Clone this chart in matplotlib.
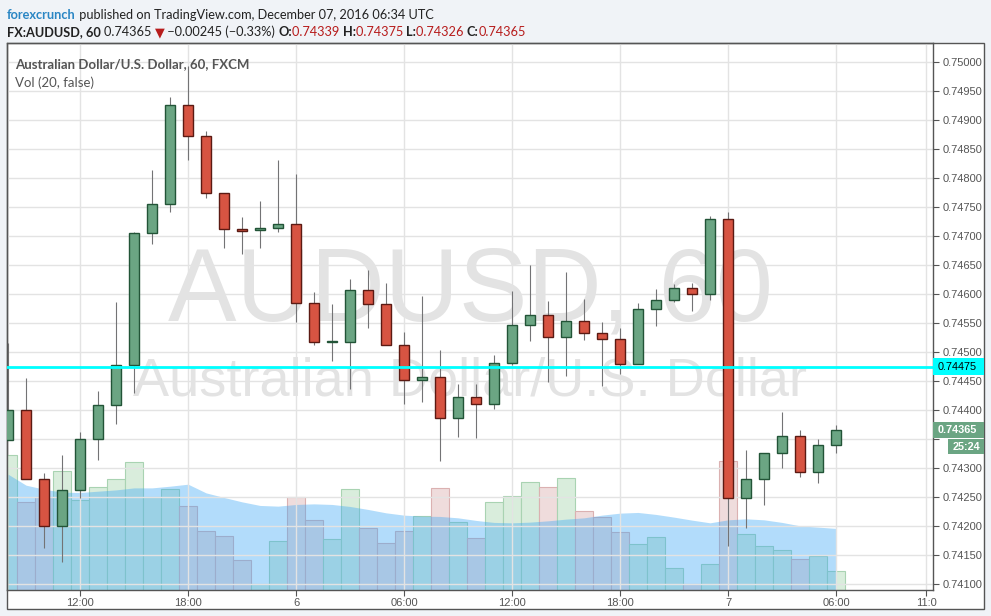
import matplotlib
matplotlib.use('Agg')
import matplotlib.pyplot as plt
import matplotlib.dates as mdates
from matplotlib.patches import Rectangle
import numpy as np
import pandas as pd

# hourly AUD/USD candles, Dec 5 08:00 -> Dec 7 06:00 (UTC)
times = pd.date_range('2016-12-05 08:00', '2016-12-07 06:00', freq='h')

opens = [0.74348, 0.74400, 0.74281, 0.74200, 0.74262, 0.74350, 0.74409, 0.74478,
         0.74705, 0.74755, 0.74926, 0.74872, 0.74774, 0.74712, 0.74710, 0.74714,
         0.74721, 0.74584, 0.74517, 0.74517, 0.74607, 0.74583, 0.74512, 0.74452,
         0.74457, 0.74386, 0.74422, 0.74410, 0.74481, 0.74547, 0.74564, 0.74526,
         0.74553, 0.74533, 0.74522, 0.74479, 0.74574, 0.74590, 0.74610, 0.74600,
         0.74729, 0.74248, 0.74281, 0.74326, 0.74355, 0.74293, 0.74339]
highs = [0.74516, 0.74455, 0.74291, 0.74322, 0.74362, 0.74433, 0.74586, 0.74707,
         0.74814, 0.74940, 0.74993, 0.74881, 0.74774, 0.74733, 0.74760, 0.74831,
         0.74807, 0.74603, 0.74583, 0.74626, 0.74641, 0.74619, 0.74535, 0.74597,
         0.74503, 0.74445, 0.74445, 0.74495, 0.74605, 0.74650, 0.74588, 0.74638,
         0.74591, 0.74552, 0.74541, 0.74584, 0.74609, 0.74617, 0.74619, 0.74734,
         0.74741, 0.74331, 0.74326, 0.74397, 0.74366, 0.74350, 0.74375]
lows = [0.74348, 0.74281, 0.74162, 0.74138, 0.74248, 0.74314, 0.74376, 0.74429,
        0.74686, 0.74741, 0.74831, 0.74766, 0.74679, 0.74669, 0.74679, 0.74707,
        0.74552, 0.74512, 0.74484, 0.74436, 0.74541, 0.74512, 0.74410, 0.74414,
        0.74312, 0.74353, 0.74352, 0.74402, 0.74478, 0.74519, 0.74448, 0.74459,
        0.74521, 0.74441, 0.74462, 0.74479, 0.74545, 0.74586, 0.74571, 0.74590,
        0.74166, 0.74197, 0.74236, 0.74300, 0.74285, 0.74274, 0.74326]
closes = [0.74400, 0.74281, 0.74200, 0.74262, 0.74350, 0.74409, 0.74478, 0.74705,
          0.74755, 0.74926, 0.74872, 0.74774, 0.74712, 0.74709, 0.74714, 0.74721,
          0.74584, 0.74517, 0.74519, 0.74607, 0.74583, 0.74512, 0.74452, 0.74457,
          0.74386, 0.74422, 0.74410, 0.74481, 0.74547, 0.74564, 0.74526, 0.74553,
          0.74533, 0.74522, 0.74479, 0.74574, 0.74590, 0.74610, 0.74600, 0.74729,
          0.74248, 0.74281, 0.74326, 0.74355, 0.74293, 0.74340, 0.74365]

# volume (relative units) and its 20-period moving average
volumes = [135, 88, 93, 119, 90, 103, 111, 128, 93, 101, 84, 59, 54, 30, 6, 49,
           93, 70, 51, 101, 62, 47, 59, 74, 102, 68, 52, 88, 94, 108, 103, 112,
           79, 73, 58, 46, 53, 22, 6, 26, 129, 56, 44, 40, 31, 34, 19]
vol_ma = [116, 105, 101, 98, 97.7, 99, 100.3, 102.3, 102.3, 104, 106, 97.3,
          92.7, 88.3, 84.7, 84, 85.7, 86.3, 85.7, 83.7, 80.7, 77.3, 75, 74,
          73.7, 72.3, 69.7, 67.7, 67.3, 68, 69.3, 71, 72.3, 75, 77, 77.7, 75.7,
          73, 70, 67.3, 70.3, 71.3, 70.3, 67.7, 64.3, 63, 61.7]

price_ticks = np.arange(0.741, 0.75001, 0.0005)
x_tick_times = ['2016-12-05 12:00', '2016-12-05 18:00', '2016-12-06 00:00',
                '2016-12-06 06:00', '2016-12-06 12:00', '2016-12-06 18:00',
                '2016-12-07 00:00', '2016-12-07 06:00', '2016-12-07 11:00']
x_tick_labels = ['12:00', '18:00', '6', '06:00', '12:00', '18:00', '7', '06:00', '11:0']

last_line = 0.74475
last_price = 0.74365

# layout helpers (pixels -> figure fraction)
W, H = 991, 616
def fx(px):
    return px / W
def fy(py):
    return 1 - py / H

fig = plt.figure(figsize=(9.91, 6.16), dpi=100)
fig.patch.set_facecolor('#f0f3f7')

panel = Rectangle((fx(7), fy(609)), fx(984) - fx(7), fy(43) - fy(609),
                  transform=fig.transFigure, facecolor='white',
                  edgecolor='#555555', lw=1, zorder=-1)
fig.patches.append(panel)

pos = [fx(7), fy(590), fx(933) - fx(7), fy(43) - fy(590)]
axv = fig.add_axes(pos, zorder=0)
ax = fig.add_axes(pos, zorder=1)
ax.set_facecolor('none')

t = mdates.date2num(times)
hour = 1 / 24
xlim = (t[0] - 0.06 * hour, t[0] + 51.39 * hour)

o = np.array(opens); c = np.array(closes)
up = c >= o

# volume pane + watermark
axv.text(0.5, 0.4927, 'AUDUSD, 60', transform=axv.transAxes, ha='center',
         va='baseline', fontsize=74, color='#e3e3e3', family='Liberation Sans')
axv.text(0.5, 0.356, 'Australian Dollar/U.S. Dollar', transform=axv.transAxes,
         ha='center', va='baseline', fontsize=39, color='#e3e3e3',
         family='Liberation Sans')
vol_face = ['#d9eddc' if u else '#efdcdc' for u in up]
vol_edge = ['#a9d3b2' if u else '#dbb1b1' for u in up]
axv.bar(t, volumes, width=hour, color=vol_face, edgecolor=vol_edge, lw=0.8)
axv.fill_between(t, 0, vol_ma, color='#3fa9f5', alpha=0.4, lw=0)
axv.set_xlim(xlim)
axv.set_ylim(0, 548)
axv.axis('off')

# candles
ax.vlines(t, lows, highs, color='#737375', lw=0.8, zorder=2)
body_bottom = np.minimum(o, c)
body_height = np.maximum(np.abs(c - o), 0.000012)
ax.bar(t, body_height, bottom=body_bottom, width=0.56 * hour,
       color=['#6ba583' if u else '#d75442' for u in up],
       edgecolor=['#225437' if u else '#5b1a13' for u in up], lw=1.0, zorder=3)
ax.axhline(last_line, color='#00ffff', lw=2, zorder=4)

ax.set_xlim(xlim)
ax.set_ylim(0.740897, 0.750328)
ax.set_yticks(price_ticks)
ax.yaxis.set_major_formatter(matplotlib.ticker.FormatStrFormatter('%.5f'))
ax.yaxis.tick_right()
ax.set_xticks(mdates.date2num(pd.to_datetime(x_tick_times)))
ax.set_xticklabels(x_tick_labels)
ax.set_axisbelow(True)
ax.grid(color='#e3e3e3', lw=1)
ax.tick_params(axis='both', colors='#555555', labelsize=8, length=4, width=0.8)
ax.tick_params(axis='y', pad=3)
ax.tick_params(axis='x', pad=2)
for lab in ax.get_xticklabels() + ax.get_yticklabels():
    lab.set_family('Liberation Sans')
# the 0.74350 label sits under the last-price tags
fig.canvas.draw()
for tk, lab in zip(ax.get_yticks(), ax.get_yticklabels()):
    if abs(tk - 0.7435) < 1e-7:
        lab.set_visible(False)
for sp in ax.spines.values():
    sp.set_color('#555555')
    sp.set_linewidth(1)

# price labels on the axis
def tag(x0, x1, y0, y1, text, face, color, weight='normal'):
    fig.patches.append(Rectangle((fx(x0), fy(y1)), fx(x1) - fx(x0), fy(y0) - fy(y1),
                                 transform=fig.transFigure, facecolor=face,
                                 edgecolor='none', zorder=5))
    fig.text(fx(x0 + 5), fy((y0 + y1) / 2), text, ha='left', va='center',
             fontsize=7.8, color=color, weight=weight, family='Liberation Sans',
             zorder=6)

tag(933, 984, 358, 375, '%.5f' % last_line, '#00ffff', 'black')
tag(933, 984, 422, 438, '%.5f' % last_price, '#6ba583', 'white', 'bold')
tag(948, 984, 439, 454, '25:24', '#6ba583', 'white', 'bold')

# header lines
def chain(parts, x, y, size):
    prev = None
    for s, color, weight in parts:
        fam = ['Lato', 'DejaVu Sans']
        if prev is None:
            prev = ax.annotate(s, xy=(fx(x), fy(y)), xycoords='figure fraction',
                               va='bottom', ha='left', fontsize=size, color=color,
                               weight=weight, family=fam, annotation_clip=False)
        else:
            prev = ax.annotate(s, xy=(1, 0), xycoords=prev, xytext=(0, 0),
                               textcoords='offset points', va='bottom', ha='left',
                               fontsize=size, color=color, weight=weight,
                               family=fam, annotation_clip=False)

dark = '#222222'
red = '#b71c1c'
chain([('forexcrunch', '#2a86c4', 'bold'),
       (' published on TradingView.com, December 07, 2016 06:34 UTC', dark, 'normal')],
      7, 21, 9.2)
chain([('FX:AUDUSD, 60 ', dark, 'bold'),
       ('0.74365 ', dark, 'normal'),
       ('\u25bc', red, 'normal'),
       (' \u22120.00245 (\u22120.33%) ', dark, 'normal'),
       ('O:', dark, 'bold'), ('0.74339 ', red, 'normal'),
       ('H:', dark, 'bold'), ('0.74375 ', red, 'normal'),
       ('L:', dark, 'bold'), ('0.74326 ', red, 'normal'),
       ('C:', dark, 'bold'), ('0.74365', red, 'normal')],
      7, 38, 9.2)

ax.text(8 / 926, 1 - 21 / 547, 'Australian Dollar/U.S. Dollar, 60, FXCM',
        transform=ax.transAxes, ha='left', va='center', fontsize=9.5,
        weight='bold', color='#555555', family='Lato')
ax.text(8 / 926, 1 - 40 / 547, 'Vol (20, false)', transform=ax.transAxes,
        ha='left', va='center', fontsize=9.5, color='#555555', family='Lato')

fig.savefig('out.png', dpi=100, facecolor=fig.get_facecolor())
